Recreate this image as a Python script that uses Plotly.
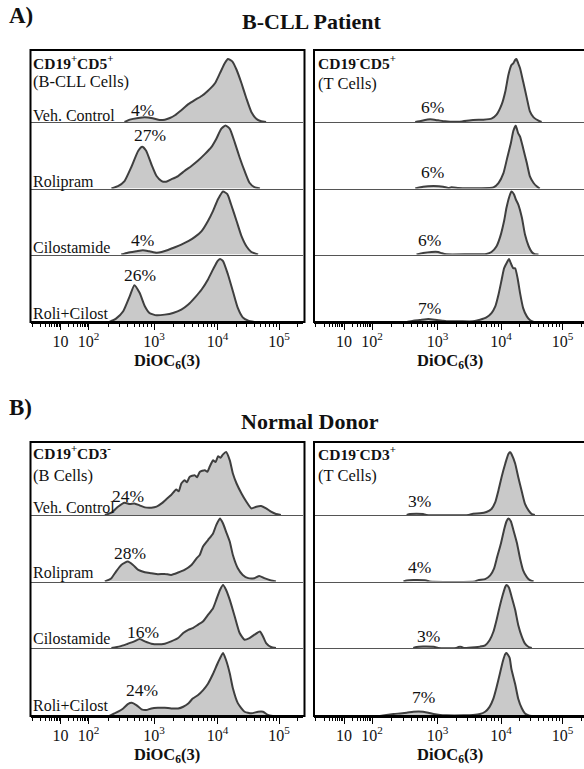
import numpy as np
import plotly.graph_objects as go

W, H = 584, 769
SERIF = "Liberation Serif, Times New Roman, Times, serif"

# ---------------- data (x: log10 DiOC6(3) intensity, y: % of max) ----------------
treatments = ["Veh. Control", "Rolipram", "Cilostamide", "Roli+Cilost"]

# B-CLL patient, CD19+CD5+ (B-CLL cells)
cll_b_veh_log = [2.55, 2.63, 2.76, 2.86, 2.98, 3.09, 3.17, 3.25, 3.33, 3.43, 3.54, 3.64, 3.75, 3.85, 3.96, 4.04, 4.12, 4.17, 4.24, 4.31, 4.39, 4.47, 4.55, 4.63, 4.71, 4.79]
cll_b_veh_pct = [0, 3.7, 6.4, 7.5, 5.9, 3.2, 3.7, 6.4, 10.7, 18.7, 28.3, 34.8, 41.2, 49.7, 61.5, 77.5, 93.6, 100, 96.3, 82.9, 61.5, 37.4, 16.0, 5.3, 1.1, 0]
cll_b_roli_log = [2.35, 2.45, 2.55, 2.65, 2.76, 2.82, 2.88, 2.96, 3.04, 3.12, 3.19, 3.27, 3.38, 3.48, 3.59, 3.69, 3.80, 3.90, 3.98, 4.06, 4.13, 4.20, 4.28, 4.36, 4.44, 4.52, 4.60, 4.69]
cll_b_roli_pct = [0, 3.7, 11.8, 33.2, 59.9, 66.3, 59.9, 38.5, 19.8, 11.8, 10.7, 14.4, 19.8, 27.8, 35.8, 43.9, 54.5, 65.2, 78.6, 94.7, 100, 94.7, 73.3, 49.2, 27.8, 9.1, 2.1, 0]
cll_b_cilo_log = [2.50, 2.60, 2.73, 2.83, 2.93, 3.04, 3.12, 3.22, 3.33, 3.43, 3.54, 3.64, 3.75, 3.85, 3.93, 4.01, 4.09, 4.16, 4.22, 4.31, 4.39, 4.47, 4.55, 4.66]
cll_b_cilo_pct = [0, 2.9, 5.1, 6.7, 5.1, 2.9, 4.0, 7.2, 11.5, 15.8, 21.1, 27.5, 37.2, 53.2, 69.3, 88.0, 100, 95.7, 79.7, 53.2, 29.1, 13.1, 4.0, 0]
cll_b_combo_log = [2.32, 2.42, 2.53, 2.63, 2.70, 2.78, 2.86, 2.93, 3.04, 3.17, 3.30, 3.43, 3.54, 3.64, 3.75, 3.85, 3.93, 4.00, 4.04, 4.09, 4.17, 4.25, 4.33, 4.41, 4.50, 4.60]
cll_b_combo_pct = [0, 5.3, 17.0, 41.0, 58.5, 46.3, 25.0, 14.4, 10.6, 11.7, 14.4, 19.7, 27.7, 38.3, 51.6, 67.6, 83.5, 96.8, 100, 96.8, 75.5, 48.9, 22.3, 7.4, 2.1, 0]

# B-CLL patient, CD19-CD5+ (T cells)
cll_t_veh_log = [2.66, 2.76, 2.89, 3.01, 3.12, 3.20, 3.35, 3.56, 3.72, 3.85, 3.93, 4.01, 4.07, 4.12, 4.17, 4.20, 4.23, 4.25, 4.28, 4.31, 4.36, 4.42, 4.47, 4.53, 4.61, 4.66]
cll_t_veh_pct = [0, 2.1, 4.2, 2.6, 1.1, 0.5, 0.5, 3.2, 3.7, 5.3, 11.6, 27.4, 48.4, 74.7, 90.5, 93.2, 98.4, 100, 93.2, 85.3, 64.2, 37.9, 16.8, 7.4, 2.1, 0]
cll_t_roli_log = [2.66, 2.78, 2.94, 3.09, 3.17, 3.22, 3.33, 3.46, 3.67, 3.88, 3.96, 4.04, 4.10, 4.16, 4.20, 4.24, 4.26, 4.28, 4.31, 4.36, 4.42, 4.47, 4.53, 4.58, 4.63]
cll_t_roli_pct = [0, 2.9, 3.9, 2.9, 0.8, 1.8, 0.8, 0.3, 0.5, 1.8, 8.7, 24.5, 48.2, 71.8, 91.3, 100, 94.0, 87.6, 82.4, 64.0, 40.3, 19.2, 8.7, 3.4, 0]
cll_t_cilo_log = [2.68, 2.78, 2.91, 3.01, 3.07, 3.14, 3.46, 3.77, 3.85, 3.93, 3.99, 4.05, 4.09, 4.14, 4.17, 4.21, 4.24, 4.28, 4.34, 4.39, 4.45, 4.50, 4.55, 4.61]
cll_t_cilo_pct = [0, 2.4, 4.0, 4.0, 1.9, 0.3, 0.3, 0.8, 4.0, 13.1, 29.1, 53.2, 74.6, 93.3, 100, 95.7, 87.7, 79.7, 58.3, 31.6, 13.1, 4.0, 0.3, 0]
cll_t_combo_log = [2.53, 2.63, 2.73, 2.86, 2.96, 3.07, 3.14, 3.35, 3.56, 3.67, 3.77, 3.85, 3.91, 3.96, 4.01, 4.05, 4.09, 4.13, 4.16, 4.20, 4.23, 4.27, 4.31, 4.36, 4.42, 4.47, 4.53]
cll_t_combo_pct = [0, 2.1, 3.2, 4.7, 3.7, 2.1, 1.1, 1.1, 1.1, 3.7, 7.4, 14.2, 24.7, 43.2, 66.8, 85.3, 93.2, 100, 93.2, 85.3, 85.3, 69.5, 45.8, 22.1, 8.9, 3.2, 0]

# Normal donor, CD19+CD3- (B cells)
nd_b_veh_log = [2.25, 2.35, 2.45, 2.55, 2.63, 2.70, 2.78, 2.86, 2.96, 3.04, 3.12, 3.19, 3.27, 3.35, 3.39, 3.43, 3.48, 3.52, 3.56, 3.64, 3.68, 3.72, 3.80, 3.84, 3.88, 3.93, 3.97, 4.01, 4.05, 4.09, 4.14, 4.20, 4.25, 4.31, 4.39, 4.47, 4.55, 4.63, 4.71, 4.79, 4.87, 4.95, 5.03]
nd_b_veh_pct = [0, 3.7, 13.2, 19.5, 17.4, 18.4, 15.3, 12.1, 11.6, 13.2, 18.4, 24.7, 31.6, 40.5, 37.5, 50.0, 55.3, 52.0, 60.5, 63.2, 60.0, 68.4, 71.1, 68.5, 77.4, 86.8, 84.0, 93.2, 91.0, 96.3, 100, 86.8, 65.8, 50.0, 34.2, 21.1, 10.5, 13.2, 14.2, 10.5, 5.3, 1.6, 0]
nd_b_roli_log = [2.25, 2.35, 2.42, 2.50, 2.60, 2.68, 2.76, 2.86, 2.96, 3.06, 3.17, 3.27, 3.38, 3.48, 3.59, 3.67, 3.72, 3.77, 3.85, 3.93, 3.98, 4.04, 4.09, 4.14, 4.20, 4.25, 4.33, 4.41, 4.50, 4.60, 4.68, 4.76, 4.87, 4.95]
nd_b_roli_pct = [0, 5.3, 15.8, 26.3, 31.6, 26.3, 18.4, 14.7, 13.2, 11.6, 12.1, 10.5, 14.2, 18.4, 26.3, 36.8, 42.1, 55.3, 65.8, 76.3, 89.5, 100, 92.1, 78.9, 63.2, 42.1, 21.1, 10.5, 5.3, 5.3, 8.9, 5.3, 1.6, 0]
nd_b_cilo_log = [2.35, 2.48, 2.60, 2.70, 2.78, 2.86, 2.96, 3.06, 3.17, 3.27, 3.38, 3.46, 3.54, 3.61, 3.69, 3.77, 3.85, 3.93, 3.98, 4.04, 4.09, 4.14, 4.20, 4.28, 4.36, 4.44, 4.52, 4.60, 4.69, 4.74, 4.79, 4.87, 4.95]
nd_b_cilo_pct = [0, 2.6, 6.8, 10.5, 14.2, 10.5, 6.8, 5.8, 6.8, 10.5, 15.8, 23.7, 28.9, 31.6, 36.8, 42.1, 52.6, 63.2, 76.3, 92.1, 100, 92.1, 76.3, 50.0, 23.7, 13.2, 15.8, 21.1, 26.3, 18.4, 7.9, 1.6, 0]
nd_b_combo_log = [2.32, 2.42, 2.53, 2.60, 2.66, 2.73, 2.81, 2.88, 2.96, 3.06, 3.17, 3.27, 3.38, 3.46, 3.54, 3.61, 3.69, 3.77, 3.85, 3.93, 4.01, 4.09, 4.14, 4.20, 4.25, 4.33, 4.44, 4.55, 4.66, 4.74, 4.82, 4.90]
nd_b_combo_pct = [0, 5.2, 12.0, 18.8, 20.9, 17.3, 10.5, 9.4, 12.0, 13.1, 13.1, 12.0, 12.0, 14.7, 19.9, 27.7, 33.0, 40.8, 51.3, 67.0, 85.3, 100, 88.5, 67.5, 44.0, 20.4, 6.8, 4.2, 6.8, 6.8, 1.6, 0]

# Normal donor, CD19-CD3+ (T cells)
nd_t_veh_log = [2.53, 2.58, 2.68, 2.78, 2.83, 3.49, 3.56, 3.67, 3.77, 3.85, 3.91, 3.96, 4.01, 4.07, 4.12, 4.15, 4.17, 4.23, 4.28, 4.34, 4.39, 4.45, 4.50, 4.55]
nd_t_veh_pct = [0, 1.6, 2.1, 1.6, 0, 0, 2.1, 2.7, 4.8, 9.6, 20.3, 39.0, 60.4, 81.8, 96.8, 100, 96.8, 81.8, 60.4, 36.4, 17.6, 7.0, 1.6, 0]
nd_t_roli_log = [2.48, 2.53, 2.63, 2.83, 2.88, 3.59, 3.64, 3.75, 3.83, 3.89, 3.94, 4.00, 4.05, 4.09, 4.12, 4.16, 4.20, 4.26, 4.31, 4.36, 4.42, 4.47, 4.53]
nd_t_roli_pct = [0, 1.6, 2.2, 1.6, 0, 0, 2.2, 3.8, 9.7, 20.4, 39.2, 60.8, 82.3, 95.7, 100, 95.7, 82.3, 60.8, 36.6, 17.7, 7.0, 2.2, 0]
nd_t_cilo_log = [2.63, 2.68, 2.78, 2.96, 3.01, 3.30, 3.33, 3.38, 3.41, 3.59, 3.67, 3.75, 3.82, 3.88, 3.93, 3.98, 4.03, 4.07, 4.09, 4.13, 4.17, 4.23, 4.28, 4.34, 4.39, 4.45, 4.50]
nd_t_cilo_pct = [0, 1.6, 2.2, 1.6, 0, 0, 1.6, 1.6, 0, 1.1, 2.2, 4.3, 12.4, 25.8, 44.6, 66.1, 84.9, 97.3, 100, 95.7, 82.3, 60.8, 36.6, 17.7, 7.0, 1.6, 0]
nd_t_combo_log = [2.12, 2.22, 2.33, 2.43, 2.53, 2.63, 2.71, 2.78, 2.86, 2.94, 3.04, 3.14, 3.41, 3.56, 3.67, 3.75, 3.82, 3.88, 3.93, 3.98, 4.03, 4.07, 4.09, 4.14, 4.17, 4.23, 4.28, 4.34, 4.39, 4.45, 4.50]
nd_t_combo_pct = [0, 1.6, 3.1, 4.1, 5.2, 6.7, 7.3, 6.7, 5.2, 3.1, 1.6, 1.0, 1.0, 1.6, 3.1, 6.7, 14.5, 27.5, 45.6, 66.3, 87.0, 98.4, 100, 92.2, 74.1, 50.8, 27.5, 11.9, 4.1, 1.0, 0]

# % of cells with low DiOC6(3) (depolarised) per treatment
cll_b_low = ["4%", "27%", "4%", "26%"]
cll_t_low = ["6%", "6%", "6%", "7%"]
nd_b_low = ["24%", "28%", "16%", "24%"]
nd_t_low = ["3%", "4%", "3%", "7%"]

# axis ticks (log10 of intensity)
major_log = [1, 2, 3, 4, 5]
major_text = ["10", "10<sup>2</sup>", "10<sup>3</sup>", "10<sup>4</sup>", "10<sup>5</sup>"]

# ---------------- biexponential-like display scale ----------------
SCALE_LOG = [0, 1, 2, 3, 4, 5, 6]
SCALE_POS = [1.5, 30, 58, 123.5, 187, 248.5, 310]


def biex(v):
    return np.interp(np.asarray(v, float), SCALE_LOG, SCALE_POS).tolist()


minor_log = [np.log10(k * 10.0 ** d) for d in range(0, 6) for k in range(1, 10)
             if not (k == 1 and d >= 1)]

FILL = "#c9c9c9"
LINE = "#3f3f3f"
PX_PER_PCT = 0.63


def fx(px):
    return px / W


def fy(py):
    return 1 - py / H


panels = [
    dict(left=30.5, right=302.5, top=50, base=[122, 188.5, 254.5, 322],
         series=[(cll_b_veh_log, cll_b_veh_pct), (cll_b_roli_log, cll_b_roli_pct),
                 (cll_b_cilo_log, cll_b_cilo_pct), (cll_b_combo_log, cll_b_combo_pct)]),
    dict(left=314, right=584, top=50, base=[122, 188.5, 254.5, 322],
         series=[(cll_t_veh_log, cll_t_veh_pct), (cll_t_roli_log, cll_t_roli_pct),
                 (cll_t_cilo_log, cll_t_cilo_pct), (cll_t_combo_log, cll_t_combo_pct)]),
    dict(left=30.5, right=302.5, top=442, base=[515, 581.5, 648, 716],
         series=[(nd_b_veh_log, nd_b_veh_pct), (nd_b_roli_log, nd_b_roli_pct),
                 (nd_b_cilo_log, nd_b_cilo_pct), (nd_b_combo_log, nd_b_combo_pct)]),
    dict(left=314, right=584, top=442, base=[515, 581.5, 648, 716],
         series=[(nd_t_veh_log, nd_t_veh_pct), (nd_t_roli_log, nd_t_roli_pct),
                 (nd_t_cilo_log, nd_t_cilo_pct), (nd_t_combo_log, nd_t_combo_pct)]),
]

fig = go.Figure()
layout = dict(width=W, height=H, margin=dict(l=0, r=0, t=0, b=0),
              paper_bgcolor="white", plot_bgcolor="white", showlegend=False,
              font=dict(family=SERIF, color="#111"))
shapes = []
annotations = []

n = 0
for p in panels:
    width_px = p["right"] - p["left"]
    tops = [p["top"]] + p["base"][:3]
    for r in range(4):
        n += 1
        xs, ys = p["series"][r]
        fig.add_trace(go.Scatter(
            x=biex(xs), y=ys, mode="lines", fill="tozeroy", fillcolor=FILL,
            line=dict(color=LINE, width=2, shape="spline", smoothing=0.5),
            xaxis=f"x{n}", yaxis=f"y{n}", hoverinfo="skip"))
        top, bot = tops[r], p["base"][r]
        last = r == 3
        xa = dict(domain=[fx(p["left"]), fx(p["right"])], range=[0, width_px],
                  anchor=f"y{n}", showgrid=False, zeroline=False, fixedrange=True,
                  showline=True, linecolor="black" if last else "#555",
                  linewidth=2 if last else 1)
        if last:
            xa.update(tickmode="array", tickvals=biex(major_log), ticktext=major_text,
                      ticks="outside", ticklen=6, tickwidth=1, tickcolor="black",
                      ticklabelstandoff=-2,
                      tickfont=dict(family=SERIF, size=16, color="#111"),
                      minor=dict(tickmode="array", tickvals=biex(minor_log),
                                 ticks="outside", ticklen=3, tickwidth=1, tickcolor="black"))
        else:
            xa.update(showticklabels=False, ticks="")
        ya = dict(domain=[fy(bot), fy(top)], range=[0, (bot - top) / PX_PER_PCT],
                  anchor=f"x{n}", visible=False, fixedrange=True)
        layout[f"xaxis{n}"] = xa
        layout[f"yaxis{n}"] = ya
    shapes.append(dict(type="rect", xref="paper", yref="paper",
                       x0=fx(p["left"]), x1=fx(p["right"] + 2), y0=fy(p["base"][3]), y1=fy(p["top"]),
                       line=dict(color="black", width=2), fillcolor="rgba(0,0,0,0)"))
    # axis title
    annotations.append(dict(text="<b>DiOC<sub>6</sub>(3)</b>", x=fx(p["left"] + 136.5),
                            y=fy(p["base"][3] + 39), xref="paper", yref="paper",
                            xanchor="center", yanchor="middle", showarrow=False,
                            font=dict(family=SERIF, size=16.5, color="#111")))


def txt(text, x, y, size, xanchor="left"):
    annotations.append(dict(text=text, x=fx(x), y=fy(y), xref="paper", yref="paper",
                            xanchor=xanchor, yanchor="middle", showarrow=False,
                            font=dict(family=SERIF, size=size, color="#111")))


# headings
txt("<b>A)</b>", 7, 16, 23)
txt("<b>B-CLL Patient</b>", 311, 22, 22, "center")
txt("<b>B)</b>", 7, 407, 23)
txt("<b>Normal Donor</b>", 310, 421, 22, "center")

# panel labels
txt("<b>CD19<sup>+</sup>CD5<sup>+</sup></b>", 31, 62, 15.5)
txt("(B-CLL Cells)", 31, 82, 16.5)
txt("<b>CD19<sup>-</sup>CD5<sup>+</sup></b>", 316, 62, 15.5)
txt("(T Cells)", 316, 83, 16.5)
txt("<b>CD19<sup>+</sup>CD3<sup>-</sup></b>", 31, 452, 15.5)
txt("(B Cells)", 31, 475, 16.5)
txt("<b>CD19<sup>-</sup>CD3<sup>+</sup></b>", 316, 453, 15.5)
txt("(T Cells)", 316, 475, 16.5)

# treatment labels (left panels)
for lbl, y in zip(treatments, [115, 182, 247, 313]):
    txt(lbl, 31, y, 16)
for lbl, y in zip(treatments, [507, 573, 638, 705]):
    txt(lbl, 31, y, 16)

# percentages
for t, (x, y) in zip(cll_b_low, [(142, 110), (150, 135), (142, 240), (140, 275)]):
    txt(t, x, y, 17.5, "center")
for t, (x, y) in zip(cll_t_low, [(432, 107), (432, 172), (430, 240), (430, 308)]):
    txt(t, x, y, 17.5, "center")
for t, (x, y) in zip(nd_b_low, [(128, 496), (130, 553), (143, 632), (142, 690)]):
    txt(t, x, y, 17.5, "center")
for t, (x, y) in zip(nd_t_low, [(419, 501), (419, 567), (428, 636), (423, 697)]):
    txt(t, x, y, 17.5, "center")

layout["shapes"] = shapes
layout["annotations"] = annotations
fig.update_layout(**layout)
fig.write_html("out.html")
